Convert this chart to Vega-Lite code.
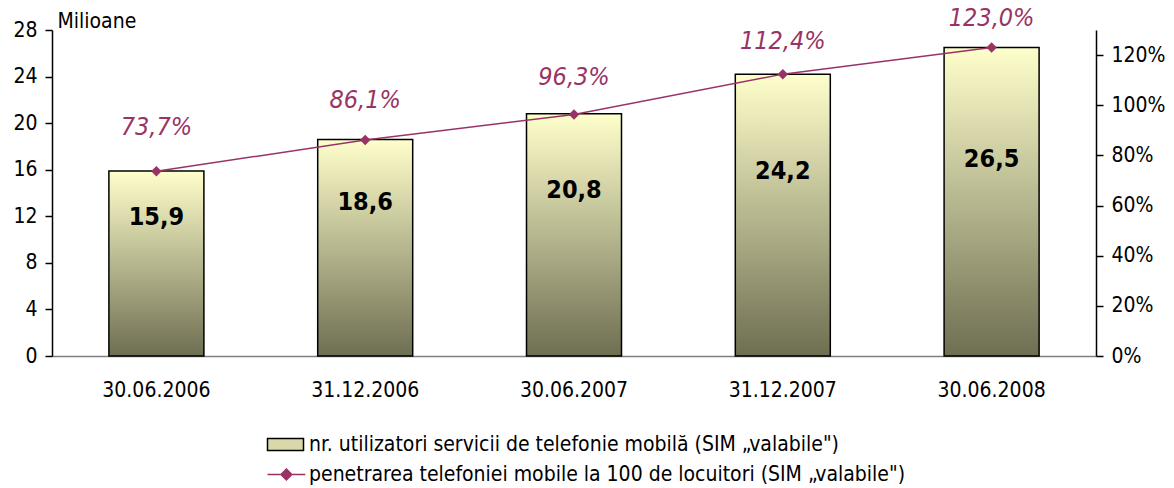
{
  "$schema": "https://vega.github.io/schema/vega-lite/v6.json",
  "width": 1044,
  "height": 326,
  "autosize": "none",
  "padding": {"left": 52, "top": 30, "right": 78, "bottom": 132},
  "config": {
    "font": "DejaVu Sans Condensed",
    "view": {"stroke": null},
    "locale": {"number": {"decimal": ",", "thousands": ".", "grouping": [3], "currency": ["", " €"]}},
    "legend": {"symbolOpacity": 1}
  },
  "data": {
    "values": [
      {"d": "30.06.2006", "v": 15.9, "p": 0.737},
      {"d": "31.12.2006", "v": 18.6, "p": 0.861},
      {"d": "30.06.2007", "v": 20.8, "p": 0.963},
      {"d": "31.12.2007", "v": 24.2, "p": 1.124},
      {"d": "30.06.2008", "v": 26.5, "p": 1.23}
    ]
  },
  "encoding": {
    "x": {
      "field": "d", "type": "ordinal", "sort": null,
      "scale": {"paddingInner": 0, "paddingOuter": 0},
      "axis": {"title": null, "ticks": false, "labelAngle": 0, "labelFontSize": 21, "labelColor": "black", "labelPadding": 23, "domainColor": "#808080", "domainWidth": 1.5}
    }
  },
  "layer": [
    {
      "mark": {
        "type": "bar", "size": 95, "stroke": "black", "strokeWidth": 1.5,
        "fill": {"gradient": "linear", "x1": 0, "y1": 0, "x2": 0, "y2": 1, "stops": [{"offset": 0, "color": "#FFFFCC"}, {"offset": 1, "color": "#6E6E52"}]}
      },
      "encoding": {
        "y": {
          "field": "v", "type": "quantitative",
          "scale": {"domain": [0, 28], "nice": false},
          "axis": {"values": [0, 4, 8, 12, 16, 20, 24, 28], "grid": false, "tickSize": 7, "tickWidth": 1.5, "tickColor": "black", "domainColor": "black", "domainWidth": 1.5, "labelPadding": 8, "labelFontSize": 21, "labelColor": "black",
            "title": "Milioane", "titleAngle": 0, "titleAlign": "left", "titleBaseline": "middle", "titleX": 5, "titleY": -9, "titleFontSize": 21, "titleFontWeight": "normal", "titleColor": "black"}
        }
      }
    },
    {
      "mark": {"type": "text", "fontWeight": "bold", "fontSize": 25, "baseline": "middle", "color": "black"},
      "encoding": {
        "y": {"field": "v", "type": "quantitative", "scale": {"domain": [-9.6, 50], "nice": false, "zero": false}, "axis": null},
        "text": {"field": "v", "type": "quantitative", "format": ".1f"}
      }
    },
    {
      "encoding": {
        "y": {
          "field": "p", "type": "quantitative",
          "scale": {"domain": [0, 1.3], "nice": false},
          "axis": {"orient": "right", "values": [0, 0.2, 0.4, 0.6, 0.8, 1.0, 1.2], "format": ".0%", "grid": false, "title": null, "tickSize": 7, "tickWidth": 1.5, "tickColor": "black", "domainColor": "black", "domainWidth": 1.5, "labelPadding": 8, "labelFontSize": 21, "labelColor": "black"}
        }
      },
      "layer": [
        {"mark": {"type": "line", "color": "#993366", "strokeWidth": 1.5}},
        {"mark": {"type": "point", "shape": "diamond", "filled": true, "fill": "#993366", "size": 110, "strokeWidth": 0, "opacity": 1}}
      ]
    },
    {
      "mark": {"type": "text", "fontStyle": "italic", "fontSize": 25, "color": "#993366", "baseline": "middle"},
      "encoding": {
        "y": {"field": "p", "type": "quantitative", "scale": {"domain": [-0.292, 1.1746], "nice": false, "zero": false}, "axis": null},
        "text": {"field": "p", "type": "quantitative", "format": ".1%"}
      }
    },
    {
      "transform": [{"filter": "false"}],
      "mark": {"type": "point", "filled": true, "opacity": 1},
      "encoding": {
        "fill": {
          "datum": "nr. utilizatori servicii de telefonie mobilă (SIM „valabile\")", "type": "nominal",
          "scale": {"domain": ["nr. utilizatori servicii de telefonie mobilă (SIM „valabile\")", "penetrarea telefoniei mobile la 100 de locuitori (SIM „valabile\")"], "range": ["#D8D8A8", "#993366"]},
          "legend": {
            "title": null, "orient": "none", "legendX": 211, "legendY": 404, "direction": "vertical",
            "symbolSize": 144, "symbolStrokeWidth": 1.5, "symbolOpacity": 1, "labelFontSize": 21, "labelColor": "black", "labelOffset": 25, "rowPadding": 8, "labelLimit": 800,
            "encode": {
              "symbols": {
                "fill": {"condition": {"test": "indexof(datum.value, 'nr.') === 0", "value": {"gradient": "linear", "x1": 0, "y1": 0, "x2": 0, "y2": 1, "stops": [{"offset": 0, "color": "#FFFFCC"}, {"offset": 1, "color": "#6E6E52"}]}}, "value": "#993366"}
              }
            }
          }
        },
        "stroke": {
          "datum": "nr. utilizatori servicii de telefonie mobilă (SIM „valabile\")", "type": "nominal",
          "scale": {"domain": ["nr. utilizatori servicii de telefonie mobilă (SIM „valabile\")", "penetrarea telefoniei mobile la 100 de locuitori (SIM „valabile\")"], "range": ["black", "#993366"]},
          "legend": {
            "title": null, "orient": "none", "legendX": 211, "legendY": 404, "direction": "vertical",
            "symbolSize": 144, "symbolStrokeWidth": 1.5, "symbolOpacity": 1, "labelFontSize": 21, "labelColor": "black", "labelOffset": 25, "rowPadding": 8, "labelLimit": 800,
            "encode": {
              "symbols": {
                "fill": {"condition": {"test": "indexof(datum.value, 'nr.') === 0", "value": {"gradient": "linear", "x1": 0, "y1": 0, "x2": 0, "y2": 1, "stops": [{"offset": 0, "color": "#FFFFCC"}, {"offset": 1, "color": "#6E6E52"}]}}, "value": "#993366"}
              }
            }
          }
        },
        "shape": {
          "datum": "nr. utilizatori servicii de telefonie mobilă (SIM „valabile\")", "type": "nominal",
          "scale": {"domain": ["nr. utilizatori servicii de telefonie mobilă (SIM „valabile\")", "penetrarea telefoniei mobile la 100 de locuitori (SIM „valabile\")"], "range": ["M-1,-1H5V1H-1Z", "M-1,0H5.3M2.15,-0.9L3.05,0L2.15,0.9L1.25,0Z"]},
          "legend": {
            "title": null, "orient": "none", "legendX": 211, "legendY": 404, "direction": "vertical",
            "symbolSize": 144, "symbolStrokeWidth": 1.5, "symbolOpacity": 1, "labelFontSize": 21, "labelColor": "black", "labelOffset": 25, "rowPadding": 8, "labelLimit": 800,
            "encode": {
              "symbols": {
                "fill": {"condition": {"test": "indexof(datum.value, 'nr.') === 0", "value": {"gradient": "linear", "x1": 0, "y1": 0, "x2": 0, "y2": 1, "stops": [{"offset": 0, "color": "#FFFFCC"}, {"offset": 1, "color": "#6E6E52"}]}}, "value": "#993366"}
              }
            }
          }
        }
      }
    }
  ],
  "resolve": {"scale": {"y": "independent"}}
}
